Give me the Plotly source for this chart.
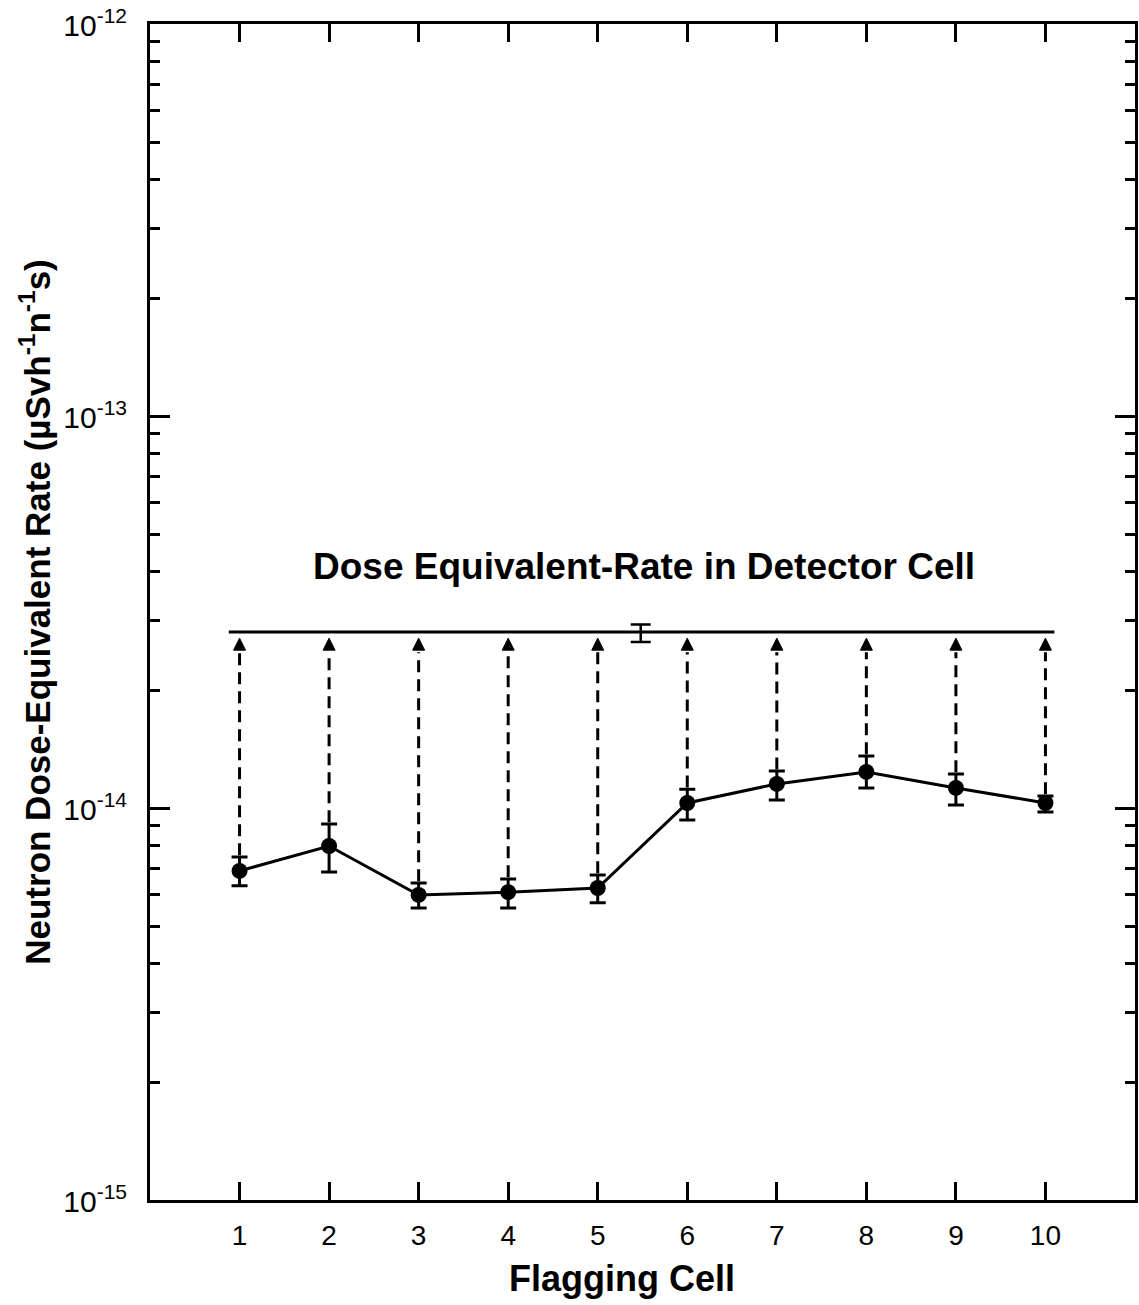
import math
import plotly.graph_objects as go

# Neutron dose-equivalent rate per flagging cell (µSv h^-1 n^-1 s)
cells = [1, 2, 3, 4, 5, 6, 7, 8, 9, 10]
dose_rate = [6.91e-15, 8.00e-15, 6.00e-15, 6.10e-15, 6.25e-15,
             1.030e-14, 1.152e-14, 1.236e-14, 1.125e-14, 1.030e-14]
err_upper = [7.50e-15, 9.10e-15, 6.44e-15, 6.59e-15, 6.75e-15,
             1.117e-14, 1.242e-14, 1.358e-14, 1.221e-14, 1.073e-14]
err_lower = [6.33e-15, 6.87e-15, 5.56e-15, 5.56e-15, 5.73e-15,
             9.32e-15, 1.048e-14, 1.125e-14, 1.018e-14, 9.77e-15]

# Dose-equivalent rate in the detector cell
detector_rate = 2.81e-14
detector_upper = 2.94e-14
detector_lower = 2.65e-14
detector_err_x = 5.48
detector_span = [0.88, 10.1]

y_tickvals = [1e-15, 1e-14, 1e-13, 1e-12]
y_ticktext = ["10<sup>-15</sup>", "10<sup>-14</sup>", "10<sup>-13</sup>", "10<sup>-12</sup>"]
x_tickvals = cells
x_ticktext = [str(c) for c in cells]

FONT = "Liberation Sans, Arial, Helvetica, sans-serif"
BLACK = "black"

# arrow tips sit just beneath the detector line
tip_rate = detector_rate * 0.965
arrow_len_factor = 10 ** (14 / 392)  # arrowhead height in decades (approx. 14 px)

fig = go.Figure()

# dashed shafts from each cell's upper error to the arrowhead base
shaft_x, shaft_y = [], []
for c, up in zip(cells, err_upper):
    shaft_x += [c, c, None]
    shaft_y += [up * 1.01, tip_rate / arrow_len_factor, None]
fig.add_trace(go.Scatter(
    x=shaft_x, y=shaft_y, mode="lines",
    line=dict(color=BLACK, width=3, dash="12px,7px"),
    hoverinfo="skip", showlegend=False))

# arrowheads
fig.add_trace(go.Scatter(
    x=cells, y=[tip_rate] * len(cells), mode="markers",
    marker=dict(symbol="arrow-up", size=12, color=BLACK,
                line=dict(color=BLACK, width=1)),
    hoverinfo="skip", showlegend=False))

# detector-cell reference line
fig.add_trace(go.Scatter(
    x=detector_span, y=[detector_rate, detector_rate], mode="lines",
    line=dict(color=BLACK, width=3),
    hoverinfo="skip", showlegend=False))
fig.add_trace(go.Scatter(
    x=[detector_err_x], y=[detector_rate], mode="markers",
    marker=dict(size=1, color=BLACK, opacity=0),
    error_y=dict(type="data", symmetric=False,
                 array=[detector_upper - detector_rate],
                 arrayminus=[detector_rate - detector_lower],
                 color=BLACK, thickness=2.5, width=10),
    hoverinfo="skip", showlegend=False))

# flagging-cell results
fig.add_trace(go.Scatter(
    x=cells, y=dose_rate, mode="lines+markers",
    line=dict(color=BLACK, width=3),
    marker=dict(symbol="circle", size=16, color=BLACK),
    error_y=dict(type="data", symmetric=False,
                 array=[u - v for u, v in zip(err_upper, dose_rate)],
                 arrayminus=[v - l for v, l in zip(dose_rate, err_lower)],
                 color=BLACK, thickness=3, width=8),
    showlegend=False))

minor_vals = [m * 10 ** e for e in (-15, -14, -13) for m in range(2, 10)]

fig.update_yaxes(
    type="log", range=[-15, -12],
    tickmode="array", tickvals=y_tickvals, ticktext=y_ticktext,
    ticks="inside", ticklen=20, tickwidth=3, tickcolor=BLACK,
    minor=dict(tickmode="array", tickvals=minor_vals, ticks="inside",
               ticklen=10, tickwidth=3, tickcolor=BLACK, showgrid=False),
    showline=True, linewidth=3, linecolor=BLACK, mirror="ticks",
    showgrid=False, zeroline=False,
    tickfont=dict(family=FONT, size=30, color=BLACK),
    ticklabelstandoff=14, ticklabelshift=1, ticklabeloverflow="allow",
    title=dict(text="Neutron Dose-Equivalent Rate (µSvh<sup>-1</sup>n<sup>-1</sup>s)",
               font=dict(family=FONT, size=35, color=BLACK, weight="bold"),
               standoff=3),
)
fig.update_xaxes(
    range=[0, 11],
    tickmode="array", tickvals=x_tickvals, ticktext=x_ticktext,
    ticks="inside", ticklen=18, tickwidth=3, tickcolor=BLACK,
    showline=True, linewidth=3, linecolor=BLACK, mirror="ticks",
    showgrid=False, zeroline=False,
    tickfont=dict(family=FONT, size=28, color=BLACK),
    ticklabelstandoff=8,
)

fig.add_annotation(
    x=5.27, y=0, xref="x", yref="paper", yanchor="middle", yshift=-78,
    text="<b>Flagging Cell</b>", showarrow=False,
    font=dict(family=FONT, size=36, color=BLACK))
fig.add_annotation(
    x=5.52, y=math.log10(detector_rate), xref="x", yref="y",
    yanchor="middle", yshift=66,
    text="<b>Dose Equivalent-Rate in Detector Cell</b>", showarrow=False,
    font=dict(family=FONT, size=37, color=BLACK))

fig.update_layout(
    width=1139, height=1305,
    margin=dict(l=150, r=4, t=24, b=105, autoexpand=False),
    paper_bgcolor="white", plot_bgcolor="white",
    font=dict(family=FONT, color=BLACK),
)

fig.write_html("out.html")
